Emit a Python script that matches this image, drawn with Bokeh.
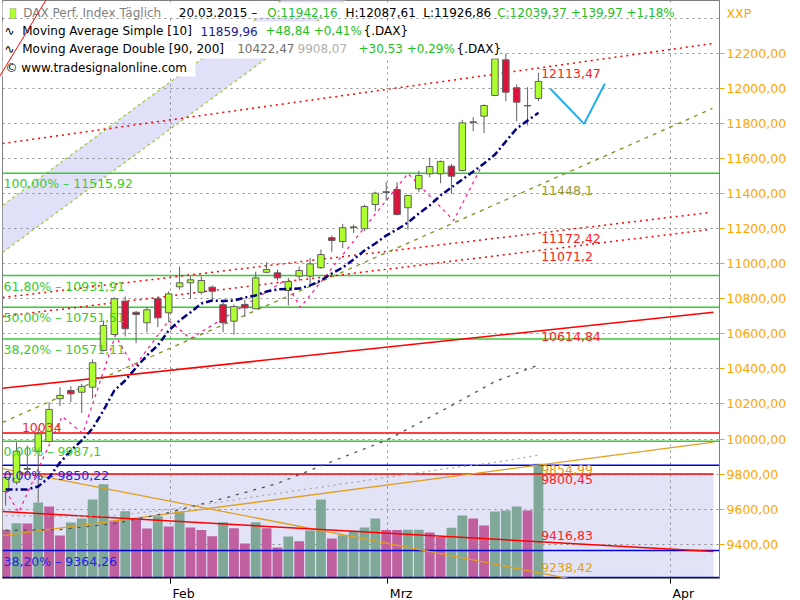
from bokeh.plotting import figure
from bokeh.models import Range1d, LinearAxis, FixedTicker, Label, BoxAnnotation, Grid
from bokeh.embed import file_html
from bokeh.resources import INLINE

# ---------------- data ----------------
opens  = [9701, 9754, 9832, 9931, 9986, 10230, 10277, 10267, 10296, 10505,
          10596, 10786, 10723, 10663, 10800, 10720, 10868, 10891, 10837, 10866,
          10766, 10672, 10767, 10743, 10951, 10948, 10847, 10929, 10929, 10977,
          11148, 11126, 11206, 11199, 11337, 11410, 11423, 11319, 11427, 11512,
          11512, 11556, 11531, 11805, 11841, 11959, 12162, 12003, 11902, 11942.16]
highs  = [9786, 9982, 9963, 10060, 10210, 10296, 10301, 10315, 10454, 10676,
          10809, 10813, 10729, 10752, 10809, 10843, 10984, 10927, 10927, 10876,
          10790, 10767, 10794, 10955, 11008, 10967, 10919, 10984, 11033, 11081,
          11161, 11227, 11223, 11336, 11410, 11465, 11465, 11392, 11531, 11604,
          11588, 11569, 11820, 11835, 11908, 12174, 12197, 12022, 12006, 12087.61]
lows   = [9621, 9740, 9800, 9640, 9980, 10188, 10210, 10148, 10230, 10500,
          10591, 10585, 10547, 10609, 10638, 10666, 10853, 10800, 10824, 10796,
          10609, 10595, 10695, 10743, 10946, 10904, 10762, 10904, 10885, 10970,
          11065, 11088, 11174, 11185, 11299, 11360, 11275, 11193, 11408, 11493,
          11459, 11398, 11525, 11755, 11744, 11955, 11926, 11812, 11788, 11926.86]
closes = [9781, 9931, 9828, 10030, 10169, 10249, 10258, 10300, 10435, 10648,
          10800, 10629, 10710, 10737, 10691, 10828, 10891, 10908, 10904, 10843,
          10663, 10756, 10748, 10919, 10967, 10919, 10898, 10961, 10999, 11052,
          11132, 11205, 11210, 11326, 11402, 11406, 11280, 11389, 11503, 11554,
          11583, 11499, 11803, 11809, 11902, 12168, 11978, 11921, 11899.40, 12039.37]

sma10 = [9713, 9713, 9713, 9730, 9781, 9866, 9934, 9992, 10061, 10163,
         10277, 10334, 10408, 10477, 10534, 10619, 10676, 10722, 10773, 10790,
         10787, 10790, 10807, 10819, 10841, 10853, 10857, 10858, 10876, 10904,
         10944, 10978, 11024, 11075, 11115, 11160, 11195, 11235, 11286, 11332,
         11389, 11434, 11480, 11525, 11571, 11622, 11697, 11771, 11816, 11859.96]

# volume bars, expressed as bar tops on the lower pane of the price scale
vol_base = 9211
vol_top = [9483, 9520, 9518, 9638, 9616, 9450, 9524, 9547, 9655, 9743,
           9536, 9589, 9543, 9490, 9560, 9501, 9587, 9496, 9481, 9446,
           9526, 9492, 9405, 9526, 9492, 9382, 9445, 9418, 9479, 9655,
           9433, 9452, 9479, 9496, 9547, 9481, 9481, 9483, 9483, 9467,
           9441, 9494, 9564, 9547, 9507, 9587, 9593, 9616, 9593, 9859]
vol_up = [0, 1, 0, 1, 0, 0, 1, 1, 1, 1,
          0, 1, 0, 0, 1, 0, 1, 0, 0, 0,
          1, 0, 0, 1, 0, 0, 1, 0, 1, 1,
          0, 1, 1, 1, 1, 0, 0, 1, 1, 0,
          0, 1, 1, 0, 0, 1, 1, 1, 0, 1]

ma_x   = [0, 5, 10, 15, 20, 25, 30, 35, 40, 45, 49]
ma90   = [9479, 9484, 9518, 9581, 9661, 9747, 9872, 9992, 10157, 10328, 10422.47]
ma200  = [9564, 9558, 9564, 9598, 9644, 9690, 9735, 9781, 9827, 9867, 9908.07]

zz_x = [0, 1.2, 5.2, 7.1, 10.1, 11.8, 15.0, 17.0, 25.7, 27.1, 37.0, 41.2, 43.9]
zz_y = [9707, 9582, 10129, 10032, 10591, 10408, 10676, 10573, 10904, 10750, 11514, 11246, 11571]

fc_x = [50.1, 53.2, 55.1]
fc_y = [11997, 11797, 12026]

fib_green = [11515.92, 10931.91, 10751.51, 10571.11, 9987.10]
fib_green_txt = ["100,00% \u2013 11515,92", "61,80% \u2013 10931,91", "50,00% \u2013 10751,51",
                 "38,20% \u2013 10571,11", "0,00% \u2013 9987,1"]
fib_blue = [9850.22, 9364.26, 9211]
fib_blue_txt = ["0,00% \u2013 9850,22", "38,20% \u2013 9364,26", ""]
red_levels = [10034, 9800.45]

# trend lines: (x0, y0, x1, y1)
tl_red_dot = [(-0.285, 11685, 65.0, 12255), (-0.285, 10807, 64.8, 11292), (-0.285, 10699, 64.8, 11195)]
tl_olive = (-0.285, 10095, 65.0, 11885)
tl_red_solid = (-0.285, 10290, 65.1, 10723)
tl_gold = [(-0.285, 9450, 65.1, 9982), (-0.285, 9831, 53.0, 9190)]
tl_red_vol = (-0.285, 9587, 65.1, 9359)
tl_red_steep = (-1.0, 12021, 4.6, 12594)
channel_up = (-0.285, 11332, 27.5, 12600)
channel_lo = (-0.285, 11064, 33.4, 12600)

right_labels = [("12113,47", 12113.47, "#ff2020", "top"),
                ("11448,1", 11448.1, "#9a9a30", "top"),
                ("11172,42", 11172.42, "#ff2020", "top"),
                ("11071,2", 11071.2, "#ff2020", "top"),
                ("10614,84", 10614.84, "#ff2020", "top"),
                ("9854,99", 9854.99, "#e0a020", "top"),
                ("9800,45", 9800.45, "#ff2020", "top"),
                ("9416,83", 9416.83, "#ff2020", "bottom"),
                ("9238,42", 9238.42, "#e0a020", "bottom")]

price_ticks = list(range(9400, 12201, 200))
grid_ticks = list(range(9400, 12401, 200))
unit_label = "XXP"
unit_label_pos = 12428
month_pos = [15.15, 35.15, 61.1]
month_lbl = ["Feb", "Mrz", "Apr"]

# ---------------- figure ----------------
FONT = "DejaVu Sans"
p = figure(frame_width=717, frame_height=578,
           x_range=Range1d(-0.285, 65.65), y_range=Range1d(9205, 12500.5),
           x_axis_location=None, y_axis_location=None,
           toolbar_location=None, output_backend="svg",
           min_border_left=2, min_border_right=81, min_border_top=0, min_border_bottom=22,
           background_fill_color="white", border_fill_color="white",
           outline_line_color="#808080")
p.xgrid.visible = False
p.ygrid.visible = False

# right price axis: labels on major ticks, orange dashes on minor ticks
yoverrides = {t: f"{t},00" for t in price_ticks}
yoverrides[unit_label_pos] = unit_label
yaxis = LinearAxis(ticker=FixedTicker(ticks=price_ticks + [unit_label_pos], minor_ticks=price_ticks),
                   major_label_overrides=yoverrides,
                   axis_line_color="#808080", major_tick_line_color=None,
                   major_tick_out=5, major_tick_in=0,
                   minor_tick_line_color="#ffa500", minor_tick_out=5, minor_tick_in=0,
                   minor_tick_line_width=1,
                   major_label_text_color="#ffa500", major_label_text_font=FONT,
                   major_label_text_font_size="12.5px", major_label_standoff=2)
p.add_layout(yaxis, "right")

# bottom date axis: labels start at the month tick (left aligned look)
label_shift = 1.22
xoverrides = {m + label_shift: l for m, l in zip(month_pos, month_lbl)}
xaxis = LinearAxis(ticker=FixedTicker(ticks=[m + label_shift for m in month_pos], minor_ticks=month_pos),
                   major_label_overrides=xoverrides,
                   axis_line_color="#808080", major_tick_line_color=None,
                   major_tick_out=5, major_tick_in=0,
                   minor_tick_line_color="#000000", minor_tick_out=5, minor_tick_in=0,
                   major_label_text_color="#000000", major_label_text_font=FONT,
                   major_label_text_font_size="12.5px", major_label_standoff=2)
p.add_layout(xaxis, "below")

p.add_layout(Grid(dimension=1, ticker=FixedTicker(ticks=grid_ticks),
                  grid_line_color="#8a8a8a", grid_line_dash="2 4", grid_line_width=1))
p.add_layout(Grid(dimension=0, ticker=FixedTicker(ticks=month_pos),
                  grid_line_color="#8a8a8a", grid_line_dash="2 4", grid_line_width=1))

# backgrounds (below the grid)
p.quad(left=[-0.285], right=[65.1], bottom=[9205], top=[red_levels[1]],
       fill_color="#e3e3f8", line_color=None, level="image")
p.patch([channel_up[0], channel_up[2], channel_lo[2], channel_lo[0]],
        [channel_up[1], channel_up[3], channel_lo[3], channel_lo[1]],
        fill_color="#e0e0f8", line_color=None, level="image")
for c in (channel_up, channel_lo):
    p.line([c[0], c[2]], [c[1], c[3]], line_color="#9acd32", line_width=1.2, line_dash="3 3")

# volume
xs = list(range(len(opens)))
p.vbar(x=xs, width=0.9, bottom=vol_base, top=vol_top,
       fill_color=["#80a898" if u else "#c0609e" for u in vol_up], line_color=None)

# horizontal levels
for v in fib_green:
    p.line([-0.285, 65.65], [v, v], line_color="#33cc33", line_width=1.5)
for v in fib_blue:
    p.line([-0.285, 65.65], [v, v], line_color="#0000dd", line_width=1.5)
p.line([-0.285, 65.65], [red_levels[0]] * 2, line_color="#ff0000", line_width=1.5)
p.line([-0.285, 65.1], [red_levels[1]] * 2, line_color="#ff0000", line_width=1.5)

# trend lines
for t in tl_red_dot:
    p.line([t[0], t[2]], [t[1], t[3]], line_color="#ff0000", line_width=1.5, line_dash="2 4")
p.line([tl_olive[0], tl_olive[2]], [tl_olive[1], tl_olive[3]], line_color="#7a9420",
       line_width=1.3, line_dash="4 5")
p.line([tl_red_solid[0], tl_red_solid[2]], [tl_red_solid[1], tl_red_solid[3]],
       line_color="#ff0000", line_width=1.5)
for t in tl_gold:
    p.line([t[0], t[2]], [t[1], t[3]], line_color="#e0a020", line_width=1.3)
p.line([tl_red_vol[0], tl_red_vol[2]], [tl_red_vol[1], tl_red_vol[3]],
       line_color="#ff0000", line_width=1.5)

# moving averages
p.line(ma_x, ma90, line_color="#505050", line_width=1.3, line_dash="3 6")
p.line(ma_x, ma200, line_color="#a8a8a8", line_width=1.3, line_dash="2 4")
p.line(zz_x, zz_y, line_color="#ff1493", line_width=1.2, line_dash="3 4")

# candles
p.segment(x0=xs, y0=lows, x1=xs, y1=highs, line_color="#606060", line_width=1)
p.vbar(x=xs, width=0.6,
       bottom=[min(o, c) for o, c in zip(opens, closes)],
       top=[max(o, c) for o, c in zip(opens, closes)],
       fill_color=["#adff2f" if c >= o else "#dc143c" for o, c in zip(opens, closes)],
       line_color="#606060", line_width=1)

p.line(xs, sma10, line_color="#000080", line_width=2.5, line_dash="7 3 2 3")
p.line(fc_x, fc_y, line_color="#1eb0ee", line_width=2)

# labels in the chart
for v, t in zip(fib_green, fib_green_txt):
    p.add_layout(Label(x=1, x_units="screen", y=v, text=t, text_color="#33cc33",
                       text_font=FONT, text_font_size="12.5px", text_baseline="top",
                       y_offset=-3))
for v, t in zip(fib_blue, fib_blue_txt):
    if t:
        p.add_layout(Label(x=1, x_units="screen", y=v, text=t, text_color="#2020ee",
                           text_font=FONT, text_font_size="12.5px", text_baseline="top",
                           y_offset=-3))
p.add_layout(Label(x=1.5, y=red_levels[0], text="10034", text_color="#ff2020",
                   text_font=FONT, text_font_size="12.5px", text_baseline="bottom", y_offset=1))
for t, v, c, b in right_labels:
    p.add_layout(Label(x=49.25, y=v, text=t, text_color=c, text_font=FONT,
                       text_font_size="12.5px", text_baseline=b,
                       y_offset=(-1 if b == "top" else 1)))

# legend header boxes
def box(l, r, t, b):
    p.add_layout(BoxAnnotation(left=l - 2, right=r - 2, top=578 - t, bottom=578 - b,
                               left_units="screen", right_units="screen",
                               top_units="screen", bottom_units="screen",
                               fill_color="white", fill_alpha=1, line_color=None))

box(0, 690, 2, 17)
box(0, 405, 21, 40)
box(0, 497, 40, 58)
box(0, 195, 59, 76)

p.line([tl_red_steep[0], tl_red_steep[2]], [tl_red_steep[1], tl_red_steep[3]],
       line_color="#ff0000", line_width=1, level="overlay")

def txt(s, cx, cy, color="#000000", size="12px", align="left"):
    p.add_layout(Label(x=cx - 2, y=578 - cy, x_units="screen", y_units="screen", text=s,
                       text_color=color, text_font=FONT, text_font_size=size,
                       text_baseline="middle", text_align=align))

p.add_layout(BoxAnnotation(left=7.5, right=13.5, top=578 - 8, bottom=578 - 18,
                           left_units="screen", right_units="screen",
                           top_units="screen", bottom_units="screen",
                           fill_color="#adff2f", fill_alpha=1, line_color="#707070"))
GREEN = "#22c022"
txt("DAX Perf. Index T\u00e4glich", 22.7, 12.7, "#808080")
txt("20.03.2015 \u2013", 178.3, 12.7)
txt("O:11942,16", 266.7, 12.7, GREEN)
txt("H:12087,61", 345, 12.7)
txt("L:11926,86", 422.7, 12.7)
txt("C:12039,37 +139,97 +1,18%", 496.7, 12.7, GREEN)
txt("\u223f", 4, 30.7)
txt("Moving Average Simple [10]", 21.7, 30.7)
txt("11859,96", 200, 30.7, "#1a1a8c")
txt("+48,84 +0,41%", 265, 30.7, GREEN)
txt("{.DAX}", 363, 30.7)
txt("\u223f", 4, 48.3)
txt("Moving Average Double [90, 200]", 21.7, 48.3)
txt("10422,47", 236.7, 48.3, "#707070")
txt("9908,07", 297, 48.3, "#b0b0b0")
txt("+30,53 +0,29%", 358, 48.3, GREEN)
txt("{.DAX}", 456, 48.3)
txt("\u00a9 www.tradesignalonline.com", 5, 67.7)

open("out.html", "w").write(file_html(p, INLINE))
